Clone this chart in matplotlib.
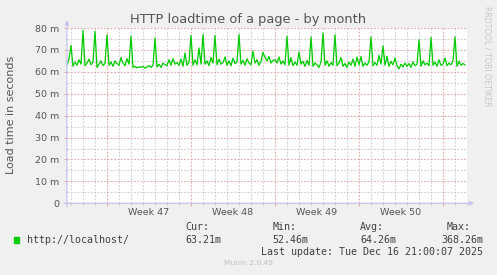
import numpy as np
import pandas as pd
import matplotlib
matplotlib.use("Agg")
import matplotlib.pyplot as plt
import matplotlib.dates as mdates
from matplotlib.patches import Rectangle
from matplotlib.transforms import blended_transform_factory

# ---------------- data (load time in ms, 4-hourly) ----------------
start_time = "2025-11-13 16:00"
step = "4h"
pre_week47 = [63.0, 66.0, 72.0, 62.5, 64.5, 63.0, 65.5, 63.5, 78.8, 62.8,
              64.0, 65.8, 63.2, 64.5, 78.5, 62.0, 63.5, 65.0, 62.8, 63.8]
week47 = [76.9, 63.0, 64.5, 62.5, 65.0, 63.8,
          63.0, 66.5, 64.0, 62.8, 66.0, 63.5,
          76.2, 62.0, 62.5, 61.8, 62.3, 62.0,
          62.5, 61.7, 62.2, 62.8, 62.0, 63.0,
          75.4, 62.2, 63.5, 62.0, 64.0, 63.2,
          62.8, 65.5, 63.0, 66.0, 63.5, 64.2,
          63.0, 65.8, 62.5, 68.6, 63.0, 64.5]
week48 = [76.6, 63.0, 65.5, 63.2, 70.9, 63.5,
          77.0, 63.5, 65.0, 62.8, 66.5, 64.0,
          76.6, 63.2, 65.8, 63.5, 64.2, 66.8,
          63.0, 65.0, 62.8, 66.2, 63.8, 64.5,
          77.0, 63.5, 65.2, 63.0, 66.0, 64.0,
          63.2, 69.5, 64.0, 65.5, 63.0, 64.8,
          69.0, 66.5, 65.0, 67.0, 64.0, 65.2]
week49 = [65.5, 64.0, 66.8, 63.5, 65.0, 63.2,
          76.2, 63.0, 66.5, 62.8, 64.5, 63.0,
          69.0, 63.5, 64.8, 62.5, 65.2, 63.0,
          75.9, 62.5, 64.0, 63.2, 62.0, 64.5,
          77.7, 63.0, 65.0, 62.5, 64.2, 63.0,
          76.9, 62.8, 64.0, 66.5, 62.5, 63.8,
          62.0, 64.5, 63.0, 65.8, 62.5, 66.8]
week50 = [63.2, 67.0, 62.5, 64.0, 63.0, 64.5,
          75.9, 62.8, 64.2, 63.0, 67.5, 63.5,
          71.9, 63.0, 67.0, 62.5, 64.8, 63.2,
          66.3, 62.8, 61.3, 63.5, 62.2, 64.0,
          62.5, 63.8, 62.0, 64.5, 62.8, 63.5,
          74.6, 62.5, 65.0, 63.2, 64.0, 62.8,
          75.7, 63.0, 64.5, 62.5, 65.5, 63.0]
week51 = [63.5, 66.3, 62.8, 64.0, 63.2, 65.0, 75.9, 62.5, 64.8, 63.0, 63.8, 63.2]

values = np.array(pre_week47 + week47 + week48 + week49 + week50 + week51)
times = pd.date_range(start_time, periods=len(values), freq=step)

x_start = pd.Timestamp("2025-11-13 16:00")
x_end = pd.Timestamp("2025-12-17 00:00")
y_ticks = [0, 10, 20, 30, 40, 50, 60, 70, 80]
y_tick_labels = ["0", "10 m", "20 m", "30 m", "40 m", "50 m", "60 m", "70 m", "80 m"]

series_label = "http://localhost/"
stat_names = ["Cur:", "Min:", "Avg:", "Max:"]
stat_values = ["63.21m", "52.46m", "64.26m", "368.26m"]
last_update = "Last update: Tue Dec 16 21:00:07 2025"

# ---------------- figure ----------------
W, H = 497, 275
BG = "#F0F0F0"
TXT = "#555555"
GRID_MINOR = "#CCCCCC"
GRID_MAJOR = "#E2A8A8"
AXIS = "#C4C4EC"
GREEN = "#00CC00"

fig = plt.figure(figsize=(W / 100, H / 100), dpi=100, facecolor=BG)
ax = fig.add_axes([67 / W, 1 - 203.3 / H, 400 / W, 175.3 / H])
ax.set_facecolor("white")

ax.plot(times, values, color=GREEN, lw=0.9, zorder=3)

ax.set_xlim(x_start, x_end)
ax.set_ylim(0, 80)

ax.xaxis.set_major_locator(mdates.WeekdayLocator(byweekday=mdates.MO))
ax.xaxis.set_minor_locator(mdates.DayLocator())
ax.xaxis.set_major_formatter(plt.NullFormatter())
ax.set_yticks(y_ticks)
ax.set_yticklabels(y_tick_labels)
ax.set_yticks(np.arange(5, 80, 10), minor=True)

dash = (0, (1.5, 1.5))
ax.grid(which="major", color=GRID_MAJOR, lw=0.8, linestyle=dash, zorder=1)
ax.grid(which="minor", color=GRID_MINOR, lw=0.8, linestyle=dash, zorder=1)
ax.set_axisbelow(True)

ax.tick_params(axis="both", which="major", length=2, width=0.8, color=GRID_MAJOR,
               labelsize=6.8, labelcolor=TXT, pad=3.5)
ax.tick_params(axis="both", which="minor", length=1.5, width=0.8, color=GRID_MINOR)

for s in ax.spines.values():
    s.set_visible(False)

# axis lines with arrows
ax.annotate("", xy=(0, 1.045), xytext=(0, -0.02), xycoords="axes fraction",
            arrowprops=dict(arrowstyle="-|>", color=AXIS, lw=0.9, mutation_scale=6,
                            shrinkA=0, shrinkB=0), annotation_clip=False)
ax.annotate("", xy=(1.018, 0), xytext=(-0.008, 0), xycoords="axes fraction",
            arrowprops=dict(arrowstyle="-|>", color=AXIS, lw=0.9, mutation_scale=6,
                            shrinkA=0, shrinkB=0), annotation_clip=False)

# week labels centred in each week
trans = blended_transform_factory(ax.transData, fig.transFigure)
for wk_start in pd.date_range("2025-11-17", "2025-12-08", freq="7D"):
    mid = wk_start + pd.Timedelta(days=3.5)
    ax.text(mdates.date2num(mid), 1 - 212.7 / H, f"Week {wk_start.isocalendar().week}",
            transform=trans, ha="center", va="center", fontsize=6.8, color=TXT)

# titles / labels
fig.text(248 / W, 1 - 19.3 / H, "HTTP loadtime of a page - by month",
         ha="center", va="center", fontsize=9.4, color=TXT)
fig.text(10.7 / W, 1 - 114.7 / H, "Load time in seconds", rotation=90,
         ha="center", va="center", fontsize=8, color=TXT)
fig.text(487.5 / W, 1 - 56 / H, "RRDTOOL / TOBI OETIKER", rotation=270,
         ha="center", va="center", fontsize=5.7, color="#C8C8C8")

# legend
MONO = "DejaVu Sans Mono"
LG = "#404040"
fig.add_artist(Rectangle((14 / W, 1 - 242.7 / H), 5.3 / W, 5.3 / H,
                         transform=fig.transFigure, color=GREEN))
fig.text(26.7 / W, 1 - 240 / H, series_label, family=MONO, fontsize=7.2,
         color=LG, ha="left", va="center")
head_x = [185.3, 272.7, 360, 446.7]
val_x = [185.3, 272.7, 360, 441]
for name, hx in zip(stat_names, head_x):
    fig.text(hx / W, 1 - 227.3 / H, name, family=MONO, fontsize=7.2,
             color=LG, ha="left", va="center")
for v, vx in zip(stat_values, val_x):
    fig.text(vx / W, 1 - 240 / H, v, family=MONO, fontsize=7.2,
             color=LG, ha="left", va="center")
fig.text(482.7 / W, 1 - 251.7 / H, last_update, family=MONO, fontsize=7.2,
         color=LG, ha="right", va="center")
fig.text(248.3 / W, 1 - 263.3 / H, "Munin 2.0.49", fontsize=5.4,
         color="#C0C0C0", ha="center", va="center")

fig.savefig("out.png", dpi=100, facecolor=BG)
